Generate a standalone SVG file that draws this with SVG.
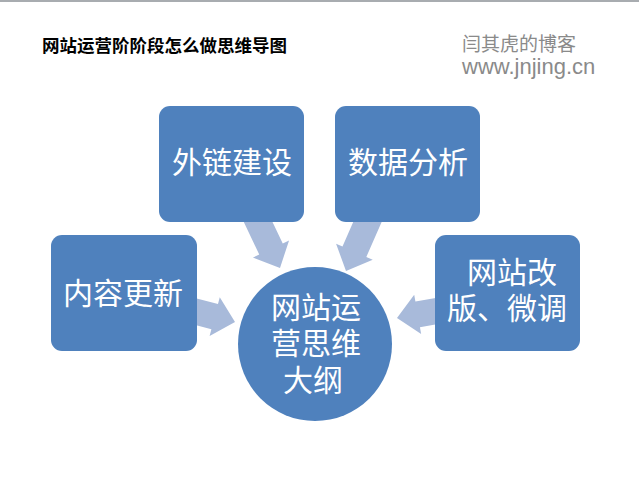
<svg xmlns="http://www.w3.org/2000/svg" width="639" height="479" viewBox="0 0 639 479">
<style>
.box{fill:#4F81BD;}
.arr{fill:#A8BADA;}
.lbl{font-family:"Noto Sans CJK SC",sans-serif;font-size:30px;fill:#FFFFFF;text-anchor:middle;}
.title{font-family:"Noto Sans CJK SC",sans-serif;font-size:17.5px;font-weight:bold;fill:#000000;}
.wm{font-family:"Noto Sans CJK SC",sans-serif;font-size:19px;fill:#8A8A8A;}
.url{font-family:"Liberation Sans",Arial,sans-serif;font-size:22px;fill:#8A8A8A;}
</style>
<defs>
<polygon id="arrow" points="-62,-13 -21,-13 -21,-20 0,0 -21,20 -21,13 -62,13"/>
</defs>
<rect x="0" y="0" width="639" height="479" fill="#FFFFFF"/>
<rect x="0" y="0" width="639" height="2" fill="#A8ACB0"/>
<g id="title">
<text class="title" x="42" y="52">网站运营阶阶段怎么做思维导图</text>
</g>
<g id="watermark">
<text class="wm" x="462" y="51">闫其虎的博客</text>
<text class="url" x="462" y="74">www.jnjing.cn</text>
</g>
<g id="connectors">
<use href="#arrow" class="arr" transform="translate(280,268) rotate(64.6)"/>
<use href="#arrow" class="arr" transform="translate(346,271) rotate(113.6)"/>
<use href="#arrow" class="arr" transform="translate(235,322) rotate(14.7)"/>
<use href="#arrow" class="arr" transform="translate(397,318) rotate(170)"/>
</g>
<g id="node-waillian">
<rect class="box" x="159" y="106" width="145" height="116" rx="11"/>
<text class="lbl" x="232" y="173">外链建设</text>
</g>
<g id="node-shuju">
<rect class="box" x="335" y="106" width="145" height="116" rx="11"/>
<text class="lbl" x="408" y="173">数据分析</text>
</g>
<g id="node-neirong">
<rect class="box" x="51" y="235" width="146" height="116" rx="11"/>
<text class="lbl" x="123" y="304">内容更新</text>
</g>
<g id="node-gaiban">
<rect class="box" x="435" y="235" width="145" height="116" rx="11"/>
<text class="lbl"><tspan x="512" y="283">网站改</tspan><tspan x="507" y="319">版、微调</tspan></text>
</g>
<g id="node-center">
<circle class="box" cx="315" cy="344" r="77"/>
<text class="lbl"><tspan x="316" y="318">网站运</tspan><tspan x="316" y="354">营思维</tspan><tspan x="313" y="391">大纲</tspan></text>
</g>
</svg>
